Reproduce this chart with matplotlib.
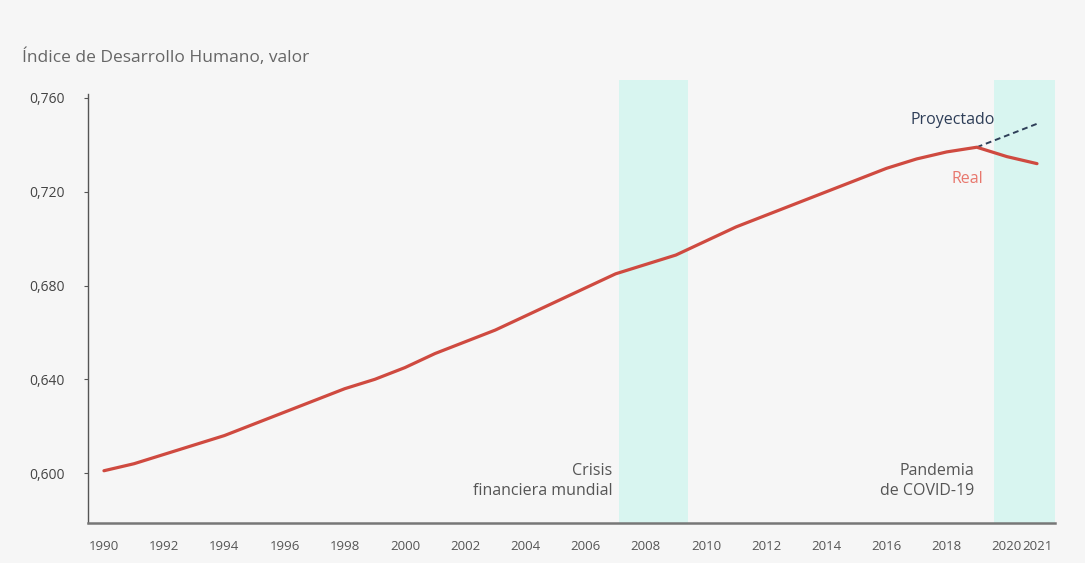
import matplotlib
matplotlib.use("Agg")
import matplotlib.pyplot as plt

# datos
years = list(range(1990, 2022))
idh_real = [0.601, 0.604, 0.608, 0.612, 0.616, 0.621, 0.626, 0.631, 0.636, 0.640,
            0.645, 0.651, 0.656, 0.661, 0.667, 0.673, 0.679, 0.685, 0.689, 0.693,
            0.699, 0.705, 0.710, 0.715, 0.720, 0.725, 0.730, 0.734, 0.737, 0.739,
            0.735, 0.732]
proj_years = [2019, 2020, 2021]
idh_proj = [0.739, 0.744, 0.749]
yticks = [0.600, 0.640, 0.680, 0.720, 0.760]
xticks = list(range(1990, 2019, 2)) + [2020, 2021]
crisis = (2007.1, 2009.4)
covid = (2019.57, 2021.6)

plt.rcParams['font.family'] = ['Open Sans', 'DejaVu Sans']
bg = "#f6f6f6"
gris = "#555555"

fig = plt.figure(figsize=(10.85, 5.63), dpi=100, facecolor=bg)
ax = fig.add_axes([0.0811, 0.0710, 0.8913, 0.787], facecolor=bg)

ax.axvspan(crisis[0], crisis[1], color="#d8f5f0", lw=0, zorder=0)
ax.axvspan(covid[0], covid[1], color="#d8f5f0", lw=0, zorder=0)

ax.plot(proj_years, idh_proj, color="#2e3e58", lw=1.4, ls=(0, (3, 2)), zorder=2)
ax.plot(years, idh_real, color="#cf4a40", lw=2.3, solid_capstyle="round", zorder=3)

ax.set_xlim(1989.47, 2021.6)
ax.set_ylim(0.5787, 0.7677)
ax.set_yticks(yticks)
ax.set_yticklabels([f"{v:.3f}".replace(".", ",") for v in yticks])
ax.set_xticks(xticks)
ax.set_xticklabels([str(x) for x in xticks])
ax.tick_params(axis="x", length=0, pad=12, labelsize=9.5, colors=gris)
ax.tick_params(axis="y", length=3, width=0.8, pad=14, labelsize=10, colors=gris)
for lbl in ax.get_yticklabels():
    lbl.set_color("#444444")

for s in ["top", "right"]:
    ax.spines[s].set_visible(False)
ax.spines["left"].set_bounds(0.5787, 0.7615)
ax.spines["left"].set_color("#555555")
ax.spines["bottom"].set_color("#777777")
ax.spines["left"].set_linewidth(1.0)
ax.spines["bottom"].set_linewidth(1.8)

fig.text(0.020, 0.898, "Índice de Desarrollo Humano, valor", fontsize=12.5, color="#666666",
         va="center", ha="left")

ax.text(2006.9, 0.5966, "Crisis\nfinanciera mundial", ha="right", va="center",
        fontsize=11.5, color=gris, linespacing=1.35)
ax.text(2018.9, 0.5966, "Pandemia\nde COVID-19", ha="right", va="center",
        fontsize=11.5, color=gris, linespacing=1.35)
ax.text(2018.2, 0.7505, "Proyectado", ha="center", va="center", fontsize=11.5,
        color="#2e3e58")
ax.text(2018.7, 0.7255, "Real", ha="center", va="center", fontsize=11.5,
        color="#e8776d")

fig.savefig("out.png", dpi=100, facecolor=bg)
